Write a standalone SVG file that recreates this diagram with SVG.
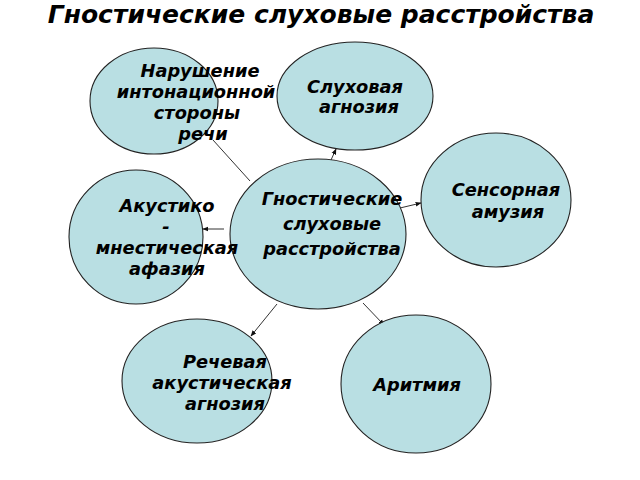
<svg xmlns="http://www.w3.org/2000/svg" width="640" height="480" viewBox="0 0 640 480">
<defs>
<marker id="arr" viewBox="0 0 10 10" refX="9" refY="5" markerWidth="6" markerHeight="6" orient="auto" markerUnits="userSpaceOnUse">
<path d="M0,1 L10,5 L0,9 z" fill="#111"/>
</marker>
</defs>
<style>
.n{fill:#b9dfe3;stroke:#222;stroke-width:1.1}
.t{font-family:"DejaVu Sans",sans-serif;font-weight:bold;font-style:italic;font-size:17.8px;fill:#000;text-anchor:middle}
.c{stroke:#333;stroke-width:1;fill:none}
</style>
<rect width="640" height="480" fill="#fff"/>
<text x="321" y="23" style="font-family:'DejaVu Sans',sans-serif;font-weight:bold;font-style:italic;font-size:25px;text-anchor:middle">Гностические слуховые расстройства</text>
<g id="connectors">
<line class="c" x1="250" y1="181" x2="213" y2="140"/>
<line class="c" x1="331" y1="160" x2="336" y2="149" marker-end="url(#arr)"/>
<line class="c" x1="400" y1="208" x2="421" y2="203" marker-end="url(#arr)"/>
<line class="c" x1="224" y1="229" x2="203" y2="229" marker-end="url(#arr)"/>
<line class="c" x1="277" y1="304" x2="251" y2="336" marker-end="url(#arr)"/>
<line class="c" x1="363" y1="303" x2="384" y2="325" marker-end="url(#arr)"/>
</g>
<g id="node-intonation">
<ellipse class="n" cx="154" cy="101" rx="64" ry="53"/>
<text class="t" x="200" y="77">Нарушение</text>
<text class="t" x="196" y="98">интонационной</text>
<text class="t" x="197" y="119">стороны</text>
<text class="t" x="203" y="140">речи</text>
</g>
<g id="node-agnosia">
<ellipse class="n" cx="355" cy="96" rx="78" ry="54"/>
<text class="t" x="355" y="93">Слуховая</text>
<text class="t" x="359" y="113">агнозия</text>
</g>
<g id="node-amusia">
<ellipse class="n" cx="496" cy="200" rx="75" ry="67"/>
<text class="t" x="506" y="196">Сенсорная</text>
<text class="t" x="508" y="218">амузия</text>
</g>
<g id="node-center">
<ellipse class="n" cx="318" cy="234" rx="88" ry="75"/>
<text class="t" x="332" y="205">Гностические</text>
<text class="t" x="332" y="230">слуховые</text>
<text class="t" x="332" y="255">расстройства</text>
</g>
<g id="node-acoustic">
<ellipse class="n" cx="136" cy="237" rx="67" ry="67"/>
<text class="t" x="167" y="212">Акустико</text>
<text class="t" x="166" y="233">-</text>
<text class="t" x="167" y="254">мнестическая</text>
<text class="t" x="167" y="275">афазия</text>
</g>
<g id="node-speech">
<ellipse class="n" cx="197" cy="381" rx="75" ry="62"/>
<text class="t" x="225" y="368">Речевая</text>
<text class="t" x="222" y="389">акустическая</text>
<text class="t" x="225" y="410">агнозия</text>
</g>
<g id="node-arrhythmia">
<ellipse class="n" cx="416" cy="384" rx="75" ry="69"/>
<text class="t" x="417" y="391">Аритмия</text>
</g>
</svg>
